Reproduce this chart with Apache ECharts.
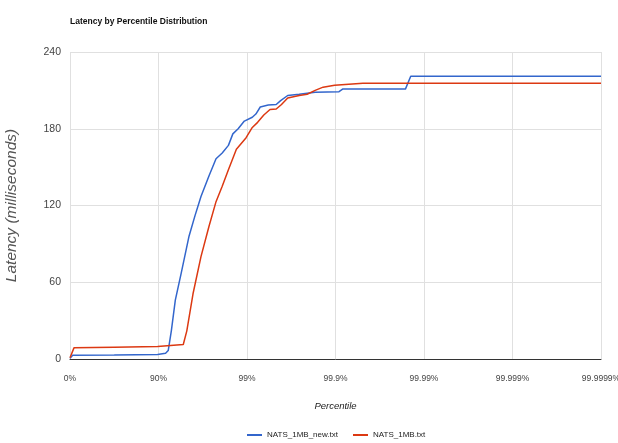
<!DOCTYPE html>
<html>
<head>
<meta charset="utf-8">
<script src="https://cdn.jsdelivr.net/npm/echarts@6/dist/echarts.min.js"></script>
<style>
  html, body { margin: 0; padding: 0; background: #fff; }
  #chart { width: 618px; height: 443px; }
</style>
</head>
<body>
<div id="chart"></div>
<script>
// Percentile ticks (x position = number of nines, i.e. -log10(1 - p))
const tickLabels = ['0%', '90%', '99%', '99.9%', '99.99%', '99.999%', '99.9999%'];

// NATS_1MB_new.txt : x in "nines", latency in ms
const blueNines = [0, 0.03, 0.5, 0.99, 1.08, 1.11, 1.145, 1.19, 1.256, 1.345, 1.41, 1.48, 1.57, 1.65, 1.72, 1.79, 1.84, 1.90, 1.97, 2.06, 2.10, 2.15, 2.24, 2.33, 2.38, 2.46, 2.59, 2.77, 3.04, 3.08, 3.79, 3.85, 6];
const blueLatency = [0.5, 3, 3.2, 3.6, 4.5, 6.6, 22, 46, 67, 96, 111.5, 127, 143, 156.6, 161, 167, 176, 180, 186, 189, 191.5, 197, 198.5, 199, 202, 206, 207, 208.5, 209, 211, 211, 221, 221];

// NATS_1MB.txt
const redNines = [0, 0.045, 0.5, 0.99, 1.28, 1.32, 1.39, 1.48, 1.57, 1.65, 1.72, 1.79, 1.88, 1.99, 2.06, 2.12, 2.19, 2.26, 2.33, 2.39, 2.46, 2.59, 2.68, 2.77, 2.86, 2.99, 3.31, 6];
const redLatency = [1, 8.7, 9.2, 9.7, 11.3, 22, 51, 80, 103.6, 123, 135, 148, 164, 173, 181, 185, 190.7, 195, 195.4, 199, 204, 206, 207, 210, 212.5, 214, 215.6, 215.6];

const seriesNames = ['NATS_1MB_new.txt', 'NATS_1MB.txt'];
const colors = ['#3366cc', '#dc3912'];

const zip = (xs, ys) => xs.map((x, i) => [x, ys[i]]);

const FONT = "'Liberation Sans', Arial, sans-serif";

const chart = echarts.init(document.getElementById('chart'), null, { renderer: 'canvas' });
chart.setOption({
  animation: false,
  backgroundColor: '#fff',
  textStyle: { fontFamily: FONT },
  title: {
    text: 'Latency by Percentile Distribution',
    left: 65, top: 12,
    textStyle: { fontSize: 8.5, fontWeight: 'bold', color: '#111', fontFamily: FONT }
  },
  legend: {
    bottom: -1,
    left: 242,
    itemWidth: 15, itemHeight: 2, itemGap: 15,
    icon: 'rect',
    data: seriesNames,
    textStyle: { fontSize: 8, color: '#222', fontFamily: FONT }
  },
  grid: { left: 70, right: 17, top: 52, bottom: 84, containLabel: false, outerBoundsMode: 'none' },
  xAxis: {
    type: 'value', min: 0, max: 6, interval: 1,
    name: 'Percentile', nameLocation: 'middle', nameGap: 42,
    nameTextStyle: { fontStyle: 'italic', fontSize: 9.5, color: '#222', fontFamily: FONT },
    axisLine: { show: true, lineStyle: { color: '#333', width: 1 } },
    axisTick: { show: false },
    axisLabel: { color: '#444', fontSize: 8.5, margin: 15, fontFamily: FONT,
      formatter: v => tickLabels[Math.round(v)] },
    splitLine: { show: true, lineStyle: { color: '#e0e0e0' } }
  },
  yAxis: {
    type: 'value', min: 0, max: 240, interval: 60,
    name: 'Latency (milliseconds)', nameLocation: 'middle', nameGap: 50,
    nameTextStyle: { fontStyle: 'italic', fontSize: 15.5, color: '#555', fontFamily: FONT },
    axisLine: { show: false },
    axisTick: { show: false },
    axisLabel: { color: '#444', fontSize: 10.5, margin: 9, fontFamily: FONT },
    splitLine: { show: true, lineStyle: { color: '#e0e0e0' } }
  },
  series: [
    { name: seriesNames[0], type: 'line', showSymbol: false, symbol: 'none',
      data: zip(blueNines, blueLatency), lineStyle: { color: colors[0], width: 1.5 }, itemStyle: { color: colors[0] } },
    { name: seriesNames[1], type: 'line', showSymbol: false, symbol: 'none',
      data: zip(redNines, redLatency), lineStyle: { color: colors[1], width: 1.5 }, itemStyle: { color: colors[1] } }
  ]
});
</script>
</body>
</html>
